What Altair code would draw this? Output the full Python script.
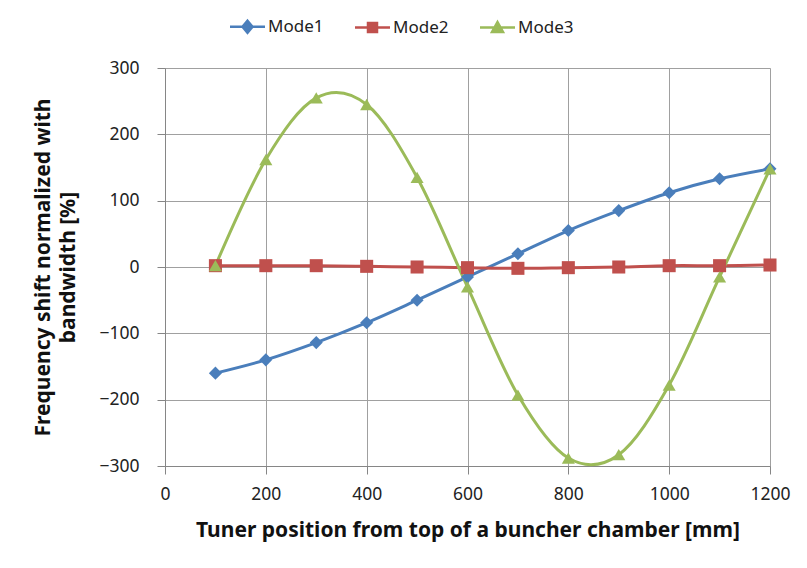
import altair as alt
import pandas as pd

positions = [100, 200, 300, 400, 500, 600, 700, 800, 900, 1000, 1100, 1200]
mode1 = [-160, -140, -114, -84, -50, -15, 20, 55, 85, 112, 133, 148]
mode2 = [2, 2, 2, 1, 0, -1, -2, -1, 0, 2, 2, 3]
mode3 = [2, 162, 255, 245, 135, -30, -193, -288, -283, -178, -15, 148]
modes = ["Mode1", "Mode2", "Mode3"]
colors = ["#4A7EBB", "#C0504D", "#9BBB59"]
shapes = ["diamond", "square", "triangle-up"]
legend_shapes = [
    "M-3.5,0L3.5,0M0,-1.2L1.0,0L0,1.2L-1.0,0Z",
    "M-3.5,0L3.5,0M-0.9,-0.9L0.9,-0.9L0.9,0.9L-0.9,0.9Z",
    "M-3.5,0L3.5,0M0,-1.1L1.1,0.9L-1.1,0.9Z",
]
x_ticks = [0, 200, 400, 600, 800, 1000, 1200]
y_ticks = [-300, -200, -100, 0, 100, 200, 300]

rows = []
for name, vals in zip(modes, [mode1, mode2, mode3]):
    for p, v in zip(positions, vals):
        rows.append({"pos": p, "val": v, "Mode": name})
df = pd.DataFrame(rows)

FONT = "Noto Sans"

x = alt.X("pos:Q", scale=alt.Scale(domain=[0, 1200], nice=False),
          axis=alt.Axis(values=x_ticks, format="d", title="Tuner position from top of a buncher chamber [mm]",
                        grid=True, gridColor="#a0a0a0", domainColor="#868686", tickColor="#868686",
                        tickSize=8, labelPadding=11, labelFontSize=17.5, labelColor="#222",
                        labelFont=FONT, titleFont=FONT, titleFontSize=21, titleFontWeight="bold",
                        titlePadding=17, titleColor="#111", labelFlush=False))
y = alt.Y("val:Q", scale=alt.Scale(domain=[-300, 300], nice=False),
          axis=alt.Axis(values=y_ticks, format="d", title=["Frequency shift normalized with", "bandwidth [%]"],
                        grid=True, gridColor="#a0a0a0", domainColor="#868686", tickColor="#868686",
                        tickSize=8, labelPadding=18, labelFontSize=17.5, labelColor="#222",
                        labelFont=FONT, titleFont=FONT, titleFontSize=21, titleFontWeight="bold",
                        titlePadding=20, titleColor="#111", titleLineHeight=25))

lines = alt.Chart(df).mark_line(interpolate="cardinal", strokeWidth=3).encode(
    x=x, y=y,
    color=alt.Color("Mode:N", scale=alt.Scale(domain=modes, range=colors), legend=None),
)
points = alt.Chart(df).mark_point(filled=True, size=170, opacity=1).encode(
    x=x, y=y,
    color=alt.Color("Mode:N", scale=alt.Scale(domain=modes, range=colors), legend=None),
    shape=alt.Shape("Mode:N", scale=alt.Scale(domain=modes, range=shapes), legend=None),
)
leg = alt.Legend(orient="none", legendX=74, legendY=-50, direction="horizontal", title=None,
                 labelFontSize=17, labelFont=FONT, labelColor="#222", symbolSize=100,
                 symbolStrokeWidth=2.5, symbolOpacity=1, labelOffset=12, columnPadding=26)
legend_layer = alt.Chart(df).mark_point(filled=False, size=100, opacity=0, strokeWidth=2.5).encode(
    x=x, y=y,
    fill=alt.Fill("Mode:N", scale=alt.Scale(domain=modes, range=colors), legend=leg),
    stroke=alt.Stroke("Mode:N", scale=alt.Scale(domain=modes, range=colors), legend=leg),
    shape=alt.Shape("Mode:N", scale=alt.Scale(domain=modes, range=legend_shapes), legend=leg),
)

chart = alt.layer(lines, points, legend_layer).resolve_scale(
    color="independent", shape="independent", fill="independent", stroke="independent"
).properties(
    width=605, height=398,
    autosize=alt.AutoSizeParams(type="none"),
    padding={"left": 157, "top": 60, "right": 29, "bottom": 86},
).configure_view(stroke=None).configure(background="white")

chart.save("out.html", embed_options={"renderer": "svg", "actions": False})
